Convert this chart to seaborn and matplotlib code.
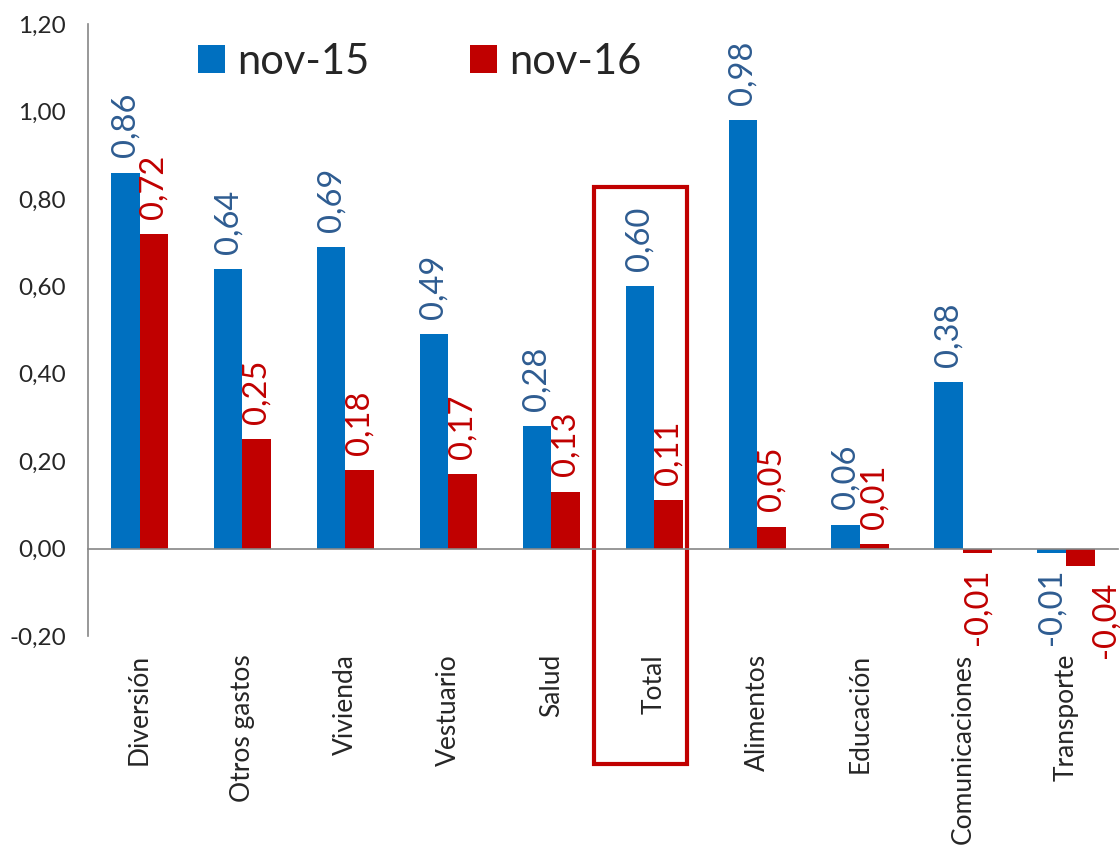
import numpy as np
import pandas as pd
import seaborn as sns
import matplotlib.pyplot as plt
from matplotlib.patches import Rectangle

categorias = ['Diversión', 'Otros gastos', 'Vivienda', 'Vestuario', 'Salud',
              'Total', 'Alimentos', 'Educación', 'Comunicaciones', 'Transporte']
series = ['nov-15', 'nov-16']
nov15 = [0.86, 0.64, 0.69, 0.49, 0.28, 0.60, 0.98, 0.055, 0.38, -0.01]
nov16 = [0.72, 0.25, 0.18, 0.17, 0.13, 0.11, 0.05, 0.01, -0.01, -0.04]
y_ticks = [-0.20, 0.0, 0.20, 0.40, 0.60, 0.80, 1.00, 1.20]

azul = '#0070C0'
rojo = '#C00000'
azul_txt = '#2E5C91'
gris = '#868686'

df = pd.DataFrame({
    'categoria': categorias * 2,
    'serie': [series[0]] * len(categorias) + [series[1]] * len(categorias),
    'valor': nov15 + nov16,
})

sns.set_style('white')
plt.rcParams['font.family'] = ['Lato', 'DejaVu Sans']

fig = plt.figure(figsize=(11.2, 8.49), dpi=100)
ax = fig.add_axes([0.0786, 0.2509, 0.9194, 0.7208])

sns.barplot(data=df, x='categoria', y='valor', hue='serie', palette=[azul, rojo],
            width=0.56, saturation=1, linewidth=0, ax=ax)

n = len(categorias)
ax.set_xlim(-0.5, n - 0.5)
ax.set_ylim(-0.20, 1.20)
ax.set_yticks(y_ticks)
ax.set_yticklabels([f'{v:.2f}'.replace('.', ',') for v in y_ticks], fontsize=17.5)
ax.set_xlabel('')
ax.set_ylabel('')

# value labels
colores_txt = [azul_txt, rojo]
for cont, vals, col in zip(ax.containers, [nov15, nov16], colores_txt):
    anns = ax.bar_label(cont, labels=[f'{v:.2f}'.replace('.', ',') for v in vals],
                        rotation=90, padding=11, color=col, fontsize=23.5)
    if col == rojo:
        # Excel nudged the last label to avoid overlap
        anns[-1].xyann = (18, anns[-1].xyann[1])

# spines / axis look
for s in ['top', 'right']:
    ax.spines[s].set_visible(False)
ax.spines['left'].set_color(gris)
ax.spines['left'].set_linewidth(1.2)
ax.spines['bottom'].set_position(('data', 0))
ax.spines['bottom'].set_color(gris)
ax.spines['bottom'].set_linewidth(1.2)
ax.tick_params(axis='y', direction='out', length=6, width=1.2, color=gris, pad=10)
ax.set_xticks(list(range(n)) + [n - 0.5])
ax.tick_params(axis='x', direction='inout', length=8, width=1.2, color=gris,
               labelbottom=False)

# category labels at the bottom of the plot area
sec = ax.secondary_xaxis(0)
sec.set_xticks(range(n))
sec.set_xticklabels(categorias, rotation=90, fontsize=19, va='top')
sec.tick_params(length=0, pad=13)
sec.spines['bottom'].set_visible(False)

# highlight box around Total
i_total = categorias.index('Total')
ax.add_patch(Rectangle((i_total - 0.583, -0.494), 0.903, 1.321, transform=ax.transData,
                       fill=False, edgecolor=rojo, linewidth=3, clip_on=False))

# legend
handles, labels = ax.get_legend_handles_labels()
ax.get_legend().remove()
fig.legend(handles, labels, ncol=2, loc='center left',
           bbox_to_anchor=(198 / 1120, 1 - 62 / 849), frameon=False,
           fontsize=30, handlelength=0.65, handleheight=0.65,
           handletextpad=0.3, columnspacing=2.4, borderpad=0, borderaxespad=0)

plt.savefig('out.png', dpi=100)
